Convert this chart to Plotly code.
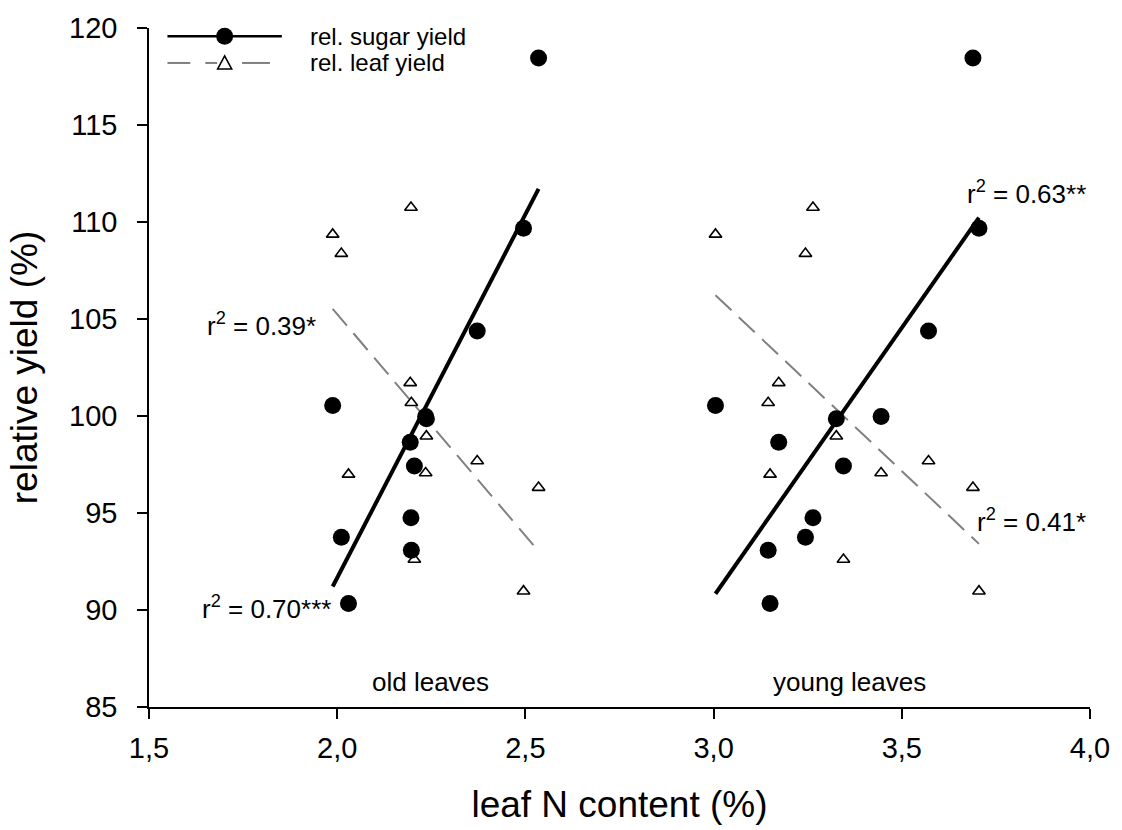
import numpy as np
import plotly.graph_objects as go

# per-plot data (12 plots)
n_old = [1.988, 2.011, 2.030, 2.194, 2.196, 2.197, 2.205, 2.237, 2.235, 2.372, 2.495, 2.535]
n_young = [3.005, 3.244, 3.150, 3.173, 3.264, 3.145, 3.345, 3.326, 3.445, 3.571, 3.705, 3.689]
sugar_yield = [100.54, 93.75, 90.34, 98.65, 94.76, 93.08, 97.42, 99.86, 99.98, 104.38, 109.68, 118.45]
leaf_yield = [109.36, 108.37, 96.99, 101.71, 110.75, 100.68, 92.60, 98.96, 97.06, 97.68, 90.97, 96.31]

x_ticks = [1.5, 2.0, 2.5, 3.0, 3.5, 4.0]
x_tick_labels = ["1,5", "2,0", "2,5", "3,0", "3,5", "4,0"]
y_ticks = [85, 90, 95, 100, 105, 110, 115, 120]

r2_labels = ["r<sup>2</sup> = 0.70***", "r<sup>2</sup> = 0.39*", "r<sup>2</sup> = 0.63**", "r<sup>2</sup> = 0.41*"]
group_labels = ["old leaves", "young leaves"]
legend_labels = ["rel. sugar yield", "rel. leaf yield"]

FONT = "Liberation Sans, Arial, sans-serif"

fig = go.Figure()


def fit_line(xs, ys):
    xs = np.array(xs)
    ys = np.array(ys)
    k, b = np.polyfit(xs, ys, 1)
    xl = np.array([xs.min(), xs.max()])
    return xl, k * xl + b


for xs in (n_old, n_young):
    xl, yl = fit_line(xs, sugar_yield)
    fig.add_trace(go.Scatter(x=xl, y=yl, mode="lines", line=dict(color="black", width=4),
                             showlegend=False, hoverinfo="skip"))
    xl, yl = fit_line(xs, leaf_yield)
    fig.add_trace(go.Scatter(x=xl, y=yl, mode="lines",
                             line=dict(color="#808080", width=2, dash="22px,10px"),
                             showlegend=False, hoverinfo="skip"))

for xs in (n_old, n_young):
    fig.add_trace(go.Scatter(x=xs, y=leaf_yield, mode="markers",
                             marker=dict(symbol="triangle-up-open", size=11, color="black",
                                         line=dict(width=1.6, color="black")),
                             showlegend=False))
    fig.add_trace(go.Scatter(x=xs, y=sugar_yield, mode="markers",
                             marker=dict(symbol="circle", size=17, color="black", line=dict(width=0)),
                             showlegend=False))

ann_font = dict(family=FONT, size=26, color="black")
annotations = [
    dict(x=1.990, y=90.15, text=r2_labels[0], xanchor="right", yanchor="middle"),
    dict(x=1.950, y=104.7, text=r2_labels[1], xanchor="right", yanchor="middle"),
    dict(x=3.667, y=111.5, text=r2_labels[2], xanchor="left", yanchor="middle"),
    dict(x=3.694, y=94.6, text=r2_labels[3], xanchor="left", yanchor="middle"),
    dict(x=2.247, y=86.3, text=group_labels[0], xanchor="center", yanchor="middle"),
    dict(x=3.360, y=86.3, text=group_labels[1], xanchor="center", yanchor="middle"),
]
for a in annotations:
    a.update(xref="x", yref="y", showarrow=False, font=ann_font)

# legend drawn manually (paper coordinates)
leg_font = dict(family=FONT, size=24, color="black")
annotations += [
    dict(x=0.1686, y=0.9880, text=legend_labels[0], xref="paper", yref="paper",
         xanchor="left", yanchor="middle", showarrow=False, font=leg_font),
    dict(x=0.1686, y=0.9485, text=legend_labels[1], xref="paper", yref="paper",
         xanchor="left", yanchor="middle", showarrow=False, font=leg_font),
]
shapes = [
    dict(type="line", xref="paper", yref="paper", x0=0.0196, x1=0.1412, y0=0.988, y1=0.988,
         line=dict(color="black", width=2.5)),
    dict(type="circle", xref="paper", yref="paper", xsizemode="pixel", ysizemode="pixel",
         xanchor=0.0804, yanchor=0.988, x0=-8.5, x1=8.5, y0=-8.5, y1=8.5,
         fillcolor="black", line=dict(width=0)),
    dict(type="line", xref="paper", yref="paper", x0=0.0196, x1=0.0439, y0=0.9485, y1=0.9485,
         line=dict(color="#808080", width=2)),
    dict(type="line", xref="paper", yref="paper", x0=0.0598, x1=0.0724, y0=0.9485, y1=0.9485,
         line=dict(color="#808080", width=2)),
    dict(type="line", xref="paper", yref="paper", x0=0.0989, x1=0.1285, y0=0.9485, y1=0.9485,
         line=dict(color="#808080", width=2)),
    dict(type="path", xref="paper", yref="paper", xsizemode="pixel", ysizemode="pixel",
         xanchor=0.0804, yanchor=0.9485, path="M-7,-6 L7,-6 L0,7 Z",
         fillcolor="white", line=dict(color="black", width=1.6)),
]

fig.update_layout(
    width=1122, height=830,
    margin=dict(l=148.5, r=27.5, t=27, b=123),
    paper_bgcolor="white", plot_bgcolor="white",
    showlegend=False,
    annotations=annotations,
    shapes=shapes,
    xaxis=dict(range=[1.5, 4.0], tickvals=x_ticks, ticktext=x_tick_labels,
               showgrid=False, zeroline=False, showline=True, linecolor="black", linewidth=2,
               ticks="outside", ticklen=10, tickwidth=1.5, tickcolor="black",
               tickfont=dict(family=FONT, size=29, color="black"), ticklabelstandoff=4,
               title=dict(text="leaf N content (%)", font=dict(family=FONT, size=37, color="black"),
                          standoff=28)),
    yaxis=dict(range=[85, 120], tickvals=y_ticks,
               showgrid=False, zeroline=False, showline=True, linecolor="black", linewidth=1.5,
               ticks="outside", ticklen=10, tickwidth=1.5, tickcolor="black",
               tickfont=dict(family=FONT, size=29, color="black"), ticklabelstandoff=14,
               title=dict(text="relative yield (%)", font=dict(family=FONT, size=37, color="black"),
                          standoff=20)),
)

fig.write_html("out.html")
